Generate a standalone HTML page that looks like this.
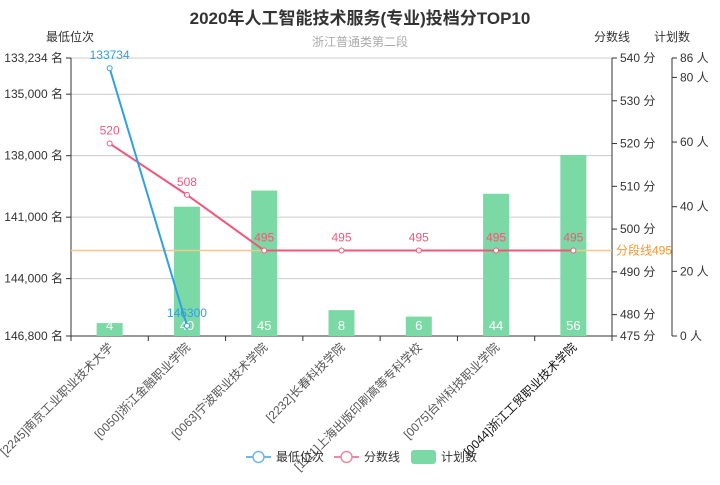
<!DOCTYPE html>
<html><head><meta charset="utf-8"><style>
body{margin:0;background:#fff}
svg{font-family:"Liberation Sans","Noto Sans CJK SC",sans-serif}
</style></head><body>
<svg id="c" width="720" height="480" xmlns="http://www.w3.org/2000/svg"></svg>
<script>
const categories=["[2245]南京工业职业技术大学","[0050]浙江金融职业学院","[0063]宁波职业技术学院","[2232]长春科技学院","[1111]上海出版印刷高等专科学校","[0075]台州科技职业学院","[0044]浙江工贸职业技术学院"];
const rankValues=[133734,146300];
const scoreValues=[520,508,495,495,495,495,495];
const planValues=[4,40,45,8,6,44,56];
const rankTicks=[133234,135000,138000,141000,144000,146800];
const scoreTicks=[475,480,490,500,510,520,530,540];
const planTicks=[0,20,40,60,80,86];
const segLine=495;

const svg=document.getElementById('c');
const NS='http://www.w3.org/2000/svg';
function el(t,a,p){const e=document.createElementNS(NS,t);for(const k in a)e.setAttribute(k,a[k]);(p||svg).appendChild(e);return e;}
const L=71,R=612,T=58,B=336,R2=672;
const bw=(R-L)/categories.length;
const xc=i=>L+bw*(i+0.5);
const yRank=v=>T+(v-133234)/(146800-133234)*(B-T);
const yScore=v=>B-(v-475)/(540-475)*(B-T);
const yPlan=v=>B-v/86*(B-T);

let t=el('text',{x:360,y:24,'text-anchor':'middle','font-size':17,'font-weight':'bold',fill:'#333'});t.textContent='2020年人工智能技术服务(专业)投档分TOP10';
t=el('text',{x:360,y:46,'text-anchor':'middle','font-size':12,fill:'#aaa'});t.textContent='浙江普通类第二段';
[[70,41,'最低位次','rank-axis-title'],[612,41,'分数线','score-axis-title'],[672,41,'计划数','plan-axis-title']].forEach(a=>{const e=el('text',{x:a[0],y:a[1],'text-anchor':'middle','font-size':12,fill:'#333'});e.textContent=a[2];});

// grid + left axis
rankTicks.forEach(v=>{const y=yRank(v);
 const g=el('line',{x1:L,x2:R,y1:y,y2:y,stroke:'#ccc'});
 el('line',{x1:L-5,x2:L,y1:y,y2:y,stroke:'#333'});
 const e=el('text',{x:L-8,y:y+4,'text-anchor':'end','font-size':12,fill:'#333'});e.textContent=v.toLocaleString('en-US')+' 名';});
el('line',{x1:L,x2:L,y1:T,y2:B,stroke:'#333'});
scoreTicks.forEach(v=>{const y=yScore(v);el('line',{x1:R,x2:R+5,y1:y,y2:y,stroke:'#333'});
 const e=el('text',{x:R+8,y:y+4,'font-size':12,fill:'#333'});e.textContent=v+' 分';});
el('line',{x1:R,x2:R,y1:T,y2:B,stroke:'#333'});
planTicks.forEach(v=>{const y=yPlan(v);el('line',{x1:R2,x2:R2+5,y1:y,y2:y,stroke:'#333'});
 const e=el('text',{x:R2+8,y:y+4,'font-size':12,fill:'#333'});e.textContent=v+' 人';});
el('line',{x1:R2,x2:R2,y1:T,y2:B,stroke:'#333'});
// x axis
el('line',{x1:L,x2:R,y1:B,y2:B,stroke:'#333'});
for(let i=0;i<=categories.length;i++){const x=L+bw*i;el('line',{x1:x,x2:x,y1:B,y2:B+5,stroke:'#333'});}
categories.forEach((c,i)=>{const x=xc(i)+4,y=B+12;
 const e=el('text',{x:x,y:y,'text-anchor':'end','font-size':12,fill:i==6?'#111':'#555',transform:`rotate(-45 ${x} ${y})`});e.textContent=c;});
// bars
planValues.forEach((v,i)=>{const y=yPlan(v);
 const r=el('rect',{x:xc(i)-13,y:y,width:26,height:B-y,fill:'#7bd9a5'});
 const e=el('text',{x:xc(i),y:B-6,'text-anchor':'middle','font-size':13,fill:'#fff'});e.textContent=v;});
// markline
let ml=el('line',{x1:L,x2:R,y1:yScore(segLine),y2:yScore(segLine),stroke:'#f8c58a','stroke-width':1.5});
t=el('text',{x:R+4,y:yScore(segLine)+4,'font-size':12,fill:'#f6962c'});t.textContent='分段线'+segLine;
// score line
let p=el('polyline',{points:scoreValues.map((v,i)=>xc(i)+','+yScore(v)).join(' '),fill:'none',stroke:'#f2577a','stroke-width':2});
scoreValues.forEach((v,i)=>{const c=el('circle',{cx:xc(i),cy:yScore(v),r:2.5,fill:'#fff',stroke:'#f2577a'});
 const e=el('text',{x:xc(i),y:yScore(v)-9,'text-anchor':'middle','font-size':12,fill:'#f2577a'});e.textContent=v;});
// rank line
p=el('polyline',{points:rankValues.map((v,i)=>xc(i)+','+yRank(v)).join(' '),fill:'none',stroke:'#2f9fe6','stroke-width':2});
rankValues.forEach((v,i)=>{const c=el('circle',{cx:xc(i),cy:yRank(v),r:2.5,fill:'#fff',stroke:'#2f9fe6'});
 const e=el('text',{x:xc(i),y:yRank(v)-9,'text-anchor':'middle','font-size':12,fill:'#2f9fe6'});e.textContent=v;});
// legend
function leg(x,color,label,type,name){const g=el('g',{});
 if(type=='line'){el('line',{x1:x,x2:x+25,y1:457,y2:457,stroke:color,'stroke-width':2},g);el('circle',{cx:x+12.5,cy:457,r:5.5,fill:'#fff',stroke:color,'stroke-width':1.5},g);}
 else el('rect',{x:x,y:450,width:25,height:14,rx:3,fill:color},g);
 const e=el('text',{x:x+30,y:461,'font-size':12,fill:'#333'},g);e.textContent=label;}
leg(246,'#6cb8ee','最低位次','line','legend-rank');
leg(334,'#f586a0','分数线','line','legend-score');
leg(411,'#7bd9a5','计划数','bar','legend-plan');
</script>
</body></html>
